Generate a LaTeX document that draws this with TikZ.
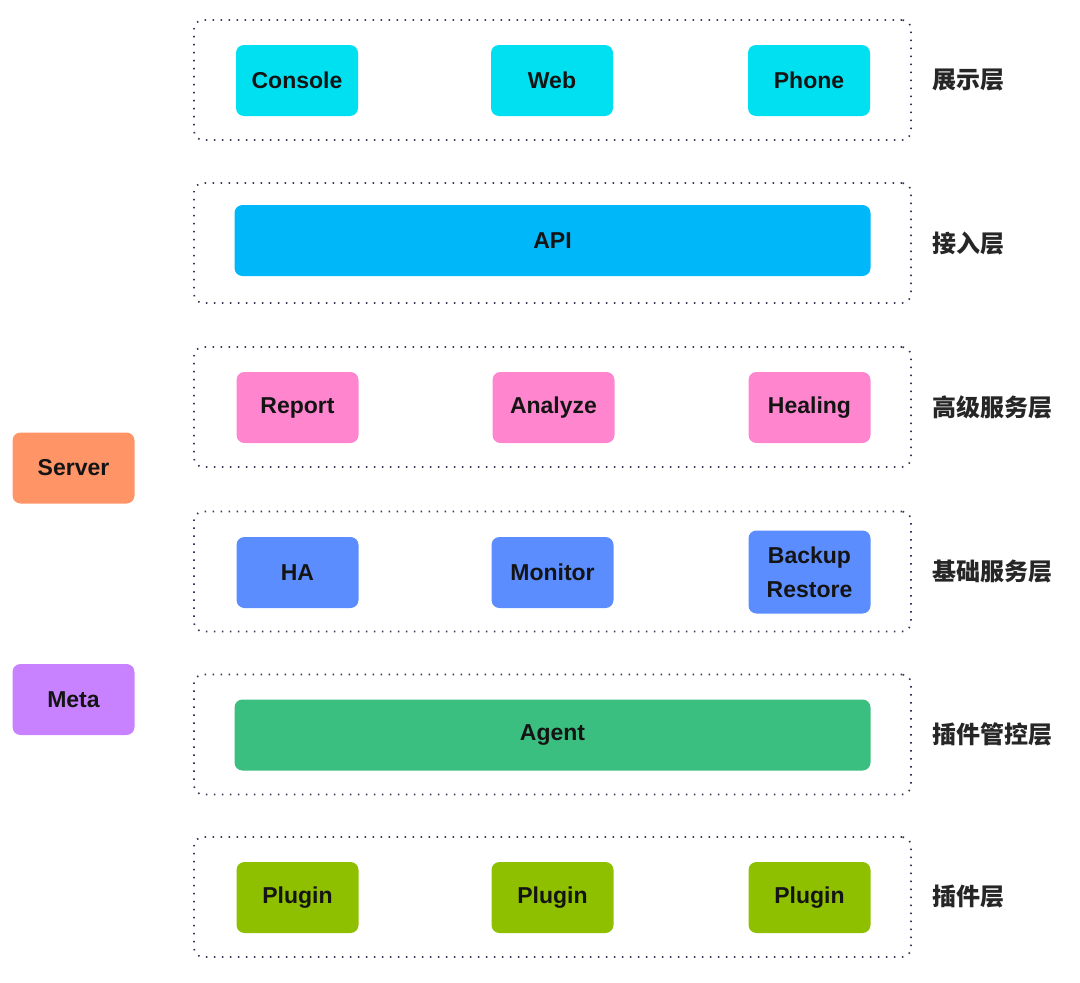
\documentclass[tikz,border=0pt]{standalone}
\usepackage{fontspec}
\setmainfont{Liberation Sans}
\newfontfamily\cjk{Noto Sans CJK SC}
\usepackage{tikz}
\usetikzlibrary{positioning}

\definecolor{framegray}{RGB}{50,54,86}
\definecolor{showcyan}{RGB}{0,224,240}
\definecolor{apiblue}{RGB}{0,183,250}
\definecolor{advpink}{RGB}{255,133,207}
\definecolor{basicblue}{RGB}{91,141,255}
\definecolor{agentgreen}{RGB}{58,191,128}
\definecolor{plugingreen}{RGB}{143,192,0}
\definecolor{serverorange}{RGB}{255,148,102}
\definecolor{metapurple}{RGB}{200,130,255}

\begin{document}
\begin{tikzpicture}[x=1pt,y=-1pt,
  layer box/.style={draw=framegray,line width=1.7pt,dash pattern=on 1.5pt off 6.5pt,
    rounded corners=9pt,minimum width=717pt,minimum height=120pt},
  item node/.style={rounded corners=8pt,minimum width=122pt,minimum height=71pt,
    inner sep=0pt,align=center,text=black!92,font=\bfseries\fontsize{23}{34}\selectfont},
  wide node/.style={item node,minimum width=636pt},
  layer label/.style={right=17pt of #1,anchor=west,text=black!85,
    font=\cjk\bfseries\fontsize{24}{28}\selectfont}]

  \useasboundingbox (0,0) rectangle (1080,983);

  % layer frames
  \node[layer box] (show) at (552.5,80) {};
  \node[layer box] (access) at (552.5,243) {};
  \node[layer box] (adv) at (552.5,407) {};
  \node[layer box] (basic) at (552.5,571.5) {};
  \node[layer box] (ctrl) at (552.5,734.5) {};
  \node[layer box] (plug) at (552.5,897) {};

  % layer names
  \node[layer label=show] (showL) {展示层};
  \node[layer label=access] (accessL) {接入层};
  \node[layer label=adv] (advL) {高级服务层};
  \node[layer label=basic] (basicL) {基础服务层};
  \node[layer label=ctrl] (ctrlL) {插件管控层};
  \node[layer label=plug] (plugL) {插件层};

  % items
  \node[item node,fill=showcyan] (console) at (297,80.5) {Console};
  \node[item node,fill=showcyan] (web) at (552,80.5) {Web};
  \node[item node,fill=showcyan] (phone) at (809,80.5) {Phone};

  \node[wide node,fill=apiblue] (api) at (552.5,240.5) {API};

  \node[item node,fill=advpink] (report) at (297.5,407.5) {Report};
  \node[item node,fill=advpink] (analyze) at (553.5,407.5) {Analyze};
  \node[item node,fill=advpink] (healing) at (809.5,407.5) {Healing};

  \node[item node,fill=basicblue] (ha) at (297.5,572.5) {HA};
  \node[item node,fill=basicblue] (monitor) at (552.5,572.5) {Monitor};
  \node[item node,fill=basicblue,minimum height=83pt] (backup) at (809.5,572) {Backup\\Restore};

  \node[wide node,fill=agentgreen] (agent) at (552.5,735) {Agent};

  \node[item node,fill=plugingreen] (plugA) at (297.5,897.5) {Plugin};
  \node[item node,fill=plugingreen] (plugB) at (552.5,897.5) {Plugin};
  \node[item node,fill=plugingreen] (plugC) at (809.5,897.5) {Plugin};

  % side boxes
  \node[item node,fill=serverorange] (server) at (73.5,468) {Server};
  \node[item node,fill=metapurple] (meta) at (73.5,699.5) {Meta};

\end{tikzpicture}
\end{document}
